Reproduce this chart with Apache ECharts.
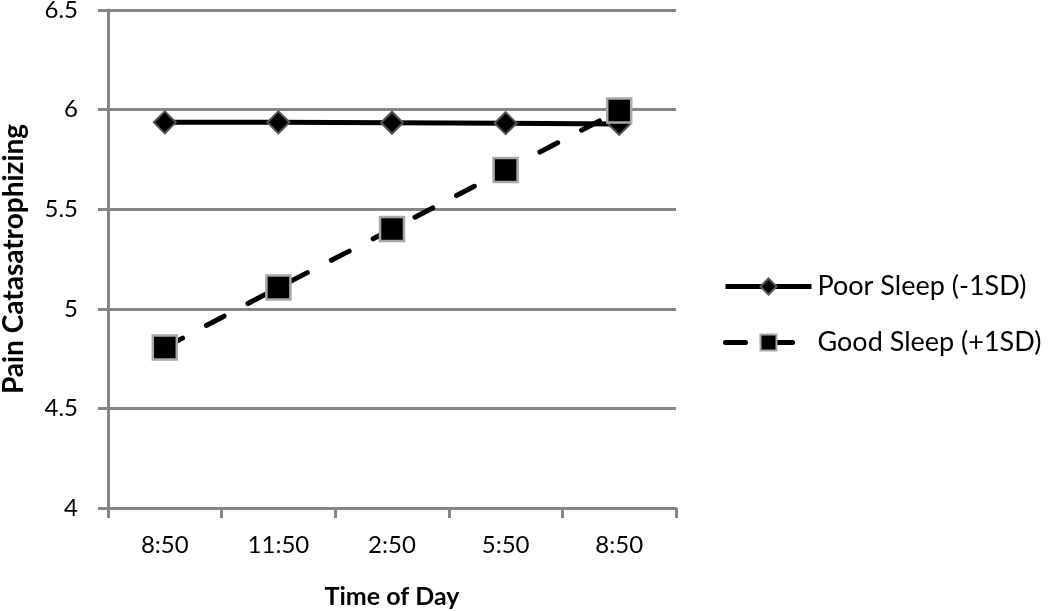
<!DOCTYPE html>
<html><head><meta charset="utf-8">
<script src="https://cdn.jsdelivr.net/npm/echarts@6/dist/echarts.min.js"></script>
<style>html,body{margin:0;padding:0;background:#fff}#c{width:1050px;height:611px}</style>
</head><body><div id="c"></div>
<script>
var categories = ['8:50', '11:50', '2:50', '5:50', '8:50'];
var poorSleep = [5.936, 5.936, 5.934, 5.932, 5.928];
var goodSleep = [4.806, 5.107, 5.40, 5.697, 5.995];
var yTicks = {min: 4, max: 6.5, interval: 0.5};
var FONT = 'Lato, "Open Sans", sans-serif';

var chart = echarts.init(document.getElementById('c'), null, {renderer: 'canvas'});
chart.setOption({
  animation: false,
  backgroundColor: '#fff',
  grid: {left: 108, right: 374, top: 10, bottom: 103, containLabel: false, outerBoundsMode: 'none'},
  legend: {
    orient: 'vertical', left: 723, top: 273, itemGap: 29, padding: 0,
    itemWidth: 86, itemHeight: 20,
    lineStyle: {width: 5},
    textStyle: {fontFamily: FONT, fontSize: 27, color: '#000', padding: [0,0,0,1]},
    data: ['Poor Sleep (-1SD)', 'Good Sleep (+1SD)']
  },
  xAxis: {
    type: 'category', data: categories, boundaryGap: true,
    name: 'Time of Day', nameLocation: 'middle', nameGap: 76,
    nameTextStyle: {fontFamily: FONT, fontSize: 25, fontWeight: 'bold', color: '#000'},
    axisLine: {lineStyle: {color: '#868686', width: 3}},
    axisTick: {show: true, inside: false, length: 10, lineStyle: {color: '#868686', width: 3}},
    axisLabel: {fontFamily: FONT, fontSize: 24, color: '#000', margin: 25},
    splitLine: {show: false}
  },
  yAxis: {
    type: 'value', min: yTicks.min, max: yTicks.max, interval: yTicks.interval,
    name: 'Pain Catasatrophizing', nameLocation: 'middle', nameGap: 80,
    nameTextStyle: {fontFamily: FONT, fontSize: 28, fontWeight: 'bold', color: '#000'},
    axisLine: {show: true, lineStyle: {color: '#868686', width: 3}},
    axisTick: {show: true, inside: false, length: 10, lineStyle: {color: '#868686', width: 3}},
    axisLabel: {fontFamily: FONT, fontSize: 24, color: '#000', margin: 30,
      formatter: function (v) { return String(Math.round(v * 10) / 10); }},
    splitLine: {show: true, lineStyle: {color: '#868686', width: 3}}
  },
  series: [
    {
      name: 'Poor Sleep (-1SD)', type: 'line', data: poorSleep,
      symbol: 'diamond', symbolSize: [22, 22],
      lineStyle: {color: '#000', width: 5, type: 'solid'},
      itemStyle: {color: '#000', borderColor: '#555', borderWidth: 2},
      z: 2
    },
    {
      name: 'Good Sleep (+1SD)', type: 'line', data: goodSleep,
      symbol: 'rect', symbolSize: 24,
      lineStyle: {color: '#000', width: 5, type: [20, 27], cap: 'round'},
      itemStyle: {color: '#000', borderColor: '#a8a8a8', borderWidth: 2.5},
      z: 3
    }
  ]
});
</script></body></html>
